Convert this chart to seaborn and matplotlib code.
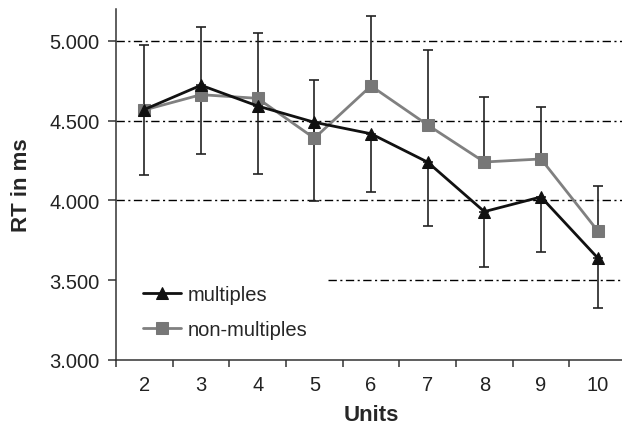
import numpy as np
import pandas as pd
import matplotlib
matplotlib.use("Agg")
import matplotlib.pyplot as plt
import seaborn as sns
from matplotlib.ticker import FuncFormatter, FixedLocator

# data
units = [2, 3, 4, 5, 6, 7, 8, 9, 10]
multiples = [4570, 4722, 4592, 4490, 4418, 4240, 3930, 4022, 3640]
non_multiples = [4567, 4663, 4640, 4390, 4718, 4473, 4241, 4260, 3810]
# upper error drawn on non-multiples, lower error drawn on multiples
non_multiples_err_up = [408, 423, 410, 365, 439, 471, 408, 326, 281]
multiples_err_down = [412, 429, 426, 493, 367, 400, 347, 343, 314]

sns.set_style("ticks")
plt.rcParams["font.family"] = ["Liberation Sans", "DejaVu Sans"]

fig = plt.figure(figsize=(6.22, 4.27), dpi=100)
ax = fig.add_axes([116 / 622, 66 / 427, 510 / 622, 351 / 427])

# horizontal dash-dot grid (the 3500 line is hidden behind the legend on the left)
dashdot = (0, (6, 2.5, 1.5, 2.5))
for yv in [4000, 4500, 5000]:
    ax.axhline(yv, color="black", lw=1.0, ls=dashdot, zorder=1)
ax.axhline(3500, xmin=0.415, color="black", lw=1.0, ls=dashdot, zorder=1)

# error bars
ax.errorbar(units, non_multiples,
            yerr=[np.zeros(len(units)), non_multiples_err_up],
            fmt="none", ecolor="#222222", elinewidth=1.2, capsize=3.3,
            capthick=1.2, zorder=2)
ax.errorbar(units, multiples,
            yerr=[multiples_err_down, np.zeros(len(units))],
            fmt="none", ecolor="#222222", elinewidth=1.2, capsize=3.3,
            capthick=1.2, zorder=2)

df = pd.DataFrame({"units": units, "multiples": multiples,
                   "non-multiples": non_multiples})
sns.lineplot(data=df, x="units", y="multiples", ax=ax, color="#111111",
             lw=2.0, marker="^", markersize=9, markeredgecolor="#111111",
             label="multiples", zorder=4)
sns.lineplot(data=df, x="units", y="non-multiples", ax=ax, color="#808080",
             lw=2.0, marker="s", markersize=8, markerfacecolor="#777777",
             markeredgecolor="#777777", label="non-multiples", zorder=3)

ax.set_xlim(1.5, 10.5)
ax.set_ylim(3000, 5200)
ax.set_yticks([3000, 3500, 4000, 4500, 5000])
ax.yaxis.set_major_formatter(FuncFormatter(lambda v, p: f"{v/1000:.3f}"))

# category ticks between units, labels at units
ax.xaxis.set_major_locator(FixedLocator(np.arange(1.5, 11, 1)))
ax.xaxis.set_minor_locator(FixedLocator(units))
ax.set_xticklabels([])
ax.set_xticklabels([str(u) for u in units], minor=True)
ax.tick_params(axis="x", which="major", length=5, width=1.1, color="#333333")
ax.tick_params(axis="x", which="minor", length=0, labelsize=14.5, pad=11,
               labelcolor="#222222")
ax.tick_params(axis="y", length=6, width=1.1, color="#333333", labelsize=14.5,
               pad=6, labelcolor="#222222")

for s in ["top", "right"]:
    ax.spines[s].set_visible(False)
for s in ["left", "bottom"]:
    ax.spines[s].set_color("#333333")
    ax.spines[s].set_linewidth(1.1)

ax.set_xlabel("Units", fontsize=16, fontweight="bold", labelpad=7)
ax.set_ylabel("RT in ms", fontsize=16, fontweight="bold", labelpad=12)

ax.legend(loc="lower left", bbox_to_anchor=(0.053, 0.06), frameon=False,
          fontsize=14.5, handlelength=1.9, handletextpad=0.3,
          labelspacing=0.8, borderpad=0.0, borderaxespad=0.0)

fig.savefig("out.png", dpi=100)
